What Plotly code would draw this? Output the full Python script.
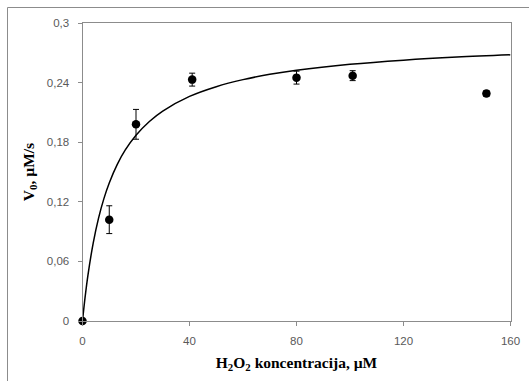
import plotly.graph_objects as go

# Measured data points (H2O2 concentration, µM) vs initial rate V0 (µM/s)
conc = [0, 10, 20, 41, 80, 101, 151]
v0 = [0.0, 0.102, 0.198, 0.243, 0.245, 0.247, 0.229]
v0_err = [0.0, 0.014, 0.015, 0.0065, 0.0065, 0.005, 0.003]

# Fitted (Michaelis-Menten) curve
fit_x = [0, 1, 2, 4, 6, 8, 10, 13, 16, 20, 25, 30, 40, 50, 60, 70, 80, 100, 120, 140, 160]
fit_y = [0.0, 0.0247, 0.0455, 0.0785, 0.1036, 0.1232, 0.1390, 0.1577, 0.1722, 0.1870,
         0.2009, 0.2114, 0.2261, 0.2359, 0.2430, 0.2483, 0.2524, 0.2584, 0.2626, 0.2657, 0.2680]

x_ticks = [0, 40, 80, 120, 160]
x_ticktext = ["0", "40", "80", "120", "160"]
y_ticks = [0, 0.06, 0.12, 0.18, 0.24, 0.3]
y_ticktext = ["0", "0,06", "0,12", "0,18", "0,24", "0,3"]

fig = go.Figure()
fig.add_trace(go.Scatter(
    x=fit_x, y=fit_y, mode="lines", line=dict(color="black", width=1.5, shape="spline"),
    showlegend=False, hoverinfo="skip", cliponaxis=False))
fig.add_trace(go.Scatter(
    x=conc, y=v0, mode="markers",
    marker=dict(color="black", size=8.5),
    error_y=dict(type="data", array=v0_err, color="black", thickness=1, width=3),
    showlegend=False, cliponaxis=False))

W, H = 529, 381
px_left, px_right, px_top, px_bottom = 82.5, 510.5, 23, 321

axis_common = dict(
    showgrid=False, zeroline=False, showline=True, linecolor="#8c8c8c", linewidth=1,
    mirror=True, ticks="outside", ticklen=4, tickcolor="#8c8c8c",
    tickfont=dict(family="Liberation Sans, Arial, sans-serif", size=11.5, color="#595959"),
)
title_font = dict(family="Liberation Serif, Times New Roman, serif",
                  size=15.5, color="black", weight="bold")

fig.update_layout(
    width=W, height=H,
    margin=dict(l=0, r=0, t=0, b=0, pad=0, autoexpand=False),
    paper_bgcolor="white", plot_bgcolor="white",
    xaxis=dict(range=[0, 160], tickvals=x_ticks, ticktext=x_ticktext,
               domain=[px_left / W, px_right / W],
               ticklabelstandoff=5,
               title=dict(text="H<sub>2</sub>O<sub>2</sub> koncentracija, µM",
                          font=title_font, standoff=11),
               **axis_common),
    yaxis=dict(range=[0, 0.3], tickvals=y_ticks, ticktext=y_ticktext,
               domain=[1 - px_bottom / H, 1 - px_top / H],
               ticklabelstandoff=6,
               title=dict(text="V<sub>0</sub>, µM/s",
                          font=title_font, standoff=8),
               **axis_common),
    shapes=[
        dict(type="line", xref="paper", yref="paper",
             x0=7.5 / W, x1=1, y0=1 - 7.5 / H, y1=1 - 7.5 / H,
             line=dict(color="#8c8c8c", width=1)),
        dict(type="line", xref="paper", yref="paper",
             x0=7.5 / W, x1=7.5 / W, y0=1 - 7.5 / H, y1=0,
             line=dict(color="#8c8c8c", width=1)),
    ],
)

fig.write_html(
    "out.html",
    config={"displayModeBar": False, "staticPlot": True},
    post_script="document.body.style.margin='0';document.body.style.overflow='hidden';",
)
